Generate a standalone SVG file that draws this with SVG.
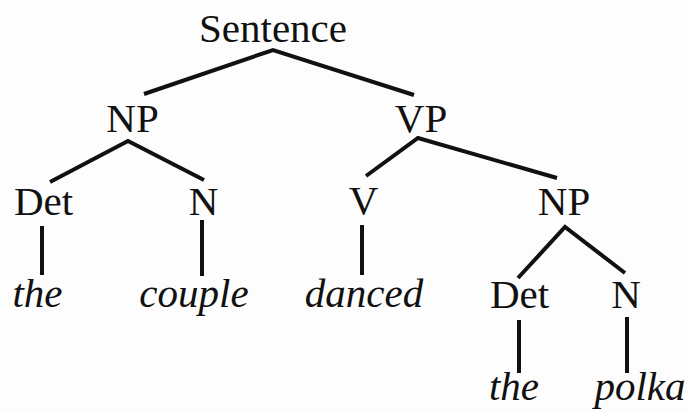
<svg xmlns="http://www.w3.org/2000/svg" width="688" height="413" viewBox="0 0 688 413">
  <style>
    .lbl { font-family: "Liberation Serif", "Times New Roman", serif; font-size: 41px; fill: #111; text-anchor: middle; }
    .word { font-style: italic; }
    .edge { stroke: #111; stroke-width: 4; stroke-linecap: butt; fill: none; }
  </style>
  <rect width="688" height="413" fill="#fdfdfd"/>

  <!-- tree branches -->
  <g id="connectors">
    <polyline class="edge" points="144,94 273,50 414,95" stroke-linejoin="miter"/>
    <polyline class="edge" points="50,182 128,141 204,180"/>
    <polyline class="edge" points="366,176 418,138 557,178"/>
    <polyline class="edge" points="518,278 565,227 625,273"/>
    <line class="edge" x1="42" y1="226" x2="42" y2="275"/>
    <line class="edge" x1="202" y1="220" x2="202" y2="276"/>
    <line class="edge" x1="362" y1="225" x2="362" y2="275"/>
    <line class="edge" x1="519" y1="320" x2="519" y2="373"/>
    <line class="edge" x1="627" y1="317" x2="627" y2="373"/>
  </g>

  <!-- phrase and word nodes -->
  <g id="sentence"><text class="lbl" x="273" y="42">Sentence</text></g>
  <g id="np1"><text class="lbl" x="132.5" y="132">NP</text></g>
  <g id="vp"><text class="lbl" x="421" y="132">VP</text></g>
  <g id="det1"><text class="lbl" x="43.5" y="215">Det</text></g>
  <g id="n1"><text class="lbl" x="203.5" y="215">N</text></g>
  <g id="v"><text class="lbl" x="363.5" y="214">V</text></g>
  <g id="np2"><text class="lbl" x="564" y="215">NP</text></g>
  <g id="w-the1"><text class="lbl word" x="37.5" y="307">the</text></g>
  <g id="w-couple"><text class="lbl word" x="194" y="307">couple</text></g>
  <g id="w-danced"><text class="lbl word" x="364" y="307">danced</text></g>
  <g id="det2"><text class="lbl" x="519.5" y="308">Det</text></g>
  <g id="n2"><text class="lbl" x="626" y="308">N</text></g>
  <g id="w-the2"><text class="lbl word" x="514" y="400">the</text></g>
  <g id="w-polka"><text class="lbl word" x="640" y="400">polka</text></g>
</svg>
